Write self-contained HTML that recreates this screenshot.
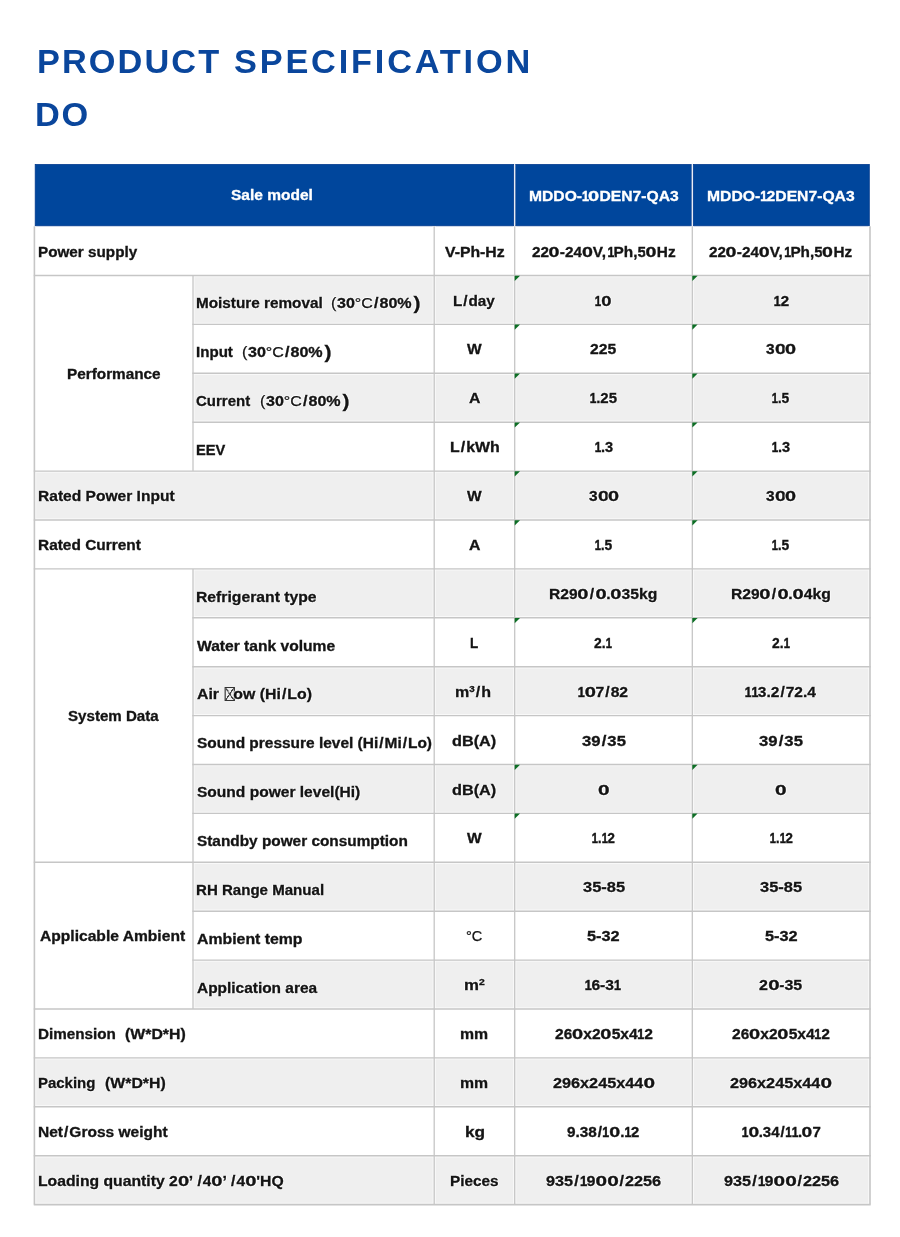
<!DOCTYPE html>
<html><head><meta charset="utf-8"><title>Product Specification DO</title>
<style>
html,body{margin:0;padding:0;background:#fff;}
body{width:900px;height:1237px;position:relative;overflow:hidden;font-family:"Liberation Sans",sans-serif;}
.t{position:absolute;color:#0a469c;font-weight:bold;font-size:33px;line-height:34px;white-space:nowrap;transform-origin:0 50%;}
#pg{position:absolute;left:0;top:0;width:900px;height:1237px;will-change:transform;}
svg{position:absolute;left:0;top:0;}
.x{position:absolute;display:block;color:#141414;font-weight:bold;font-size:13.8px;line-height:20px;height:20px;white-space:nowrap;transform-origin:0 50%;-webkit-text-stroke:0.3px #141414;text-shadow:0.8px 0 0.8px #fff,-0.8px 0 0.8px #fff,0 0.8px 0.8px #fff,0 -0.8px 0.8px #fff;}
.x.h{color:#fff;-webkit-text-stroke-color:#fff;text-shadow:none;}
.x sup{font-size:8.5px;line-height:0;vertical-align:5.5px;}
.nb{font-weight:normal;-webkit-text-stroke:0.25px #141414;}
.op{margin-right:0.5px;}
.x i{font-style:normal;}
.d1{display:inline-block;transform:scaleX(0.8);margin:0 -1.0px;-webkit-text-stroke-width:0.5px;}
.d1.d1b{margin-left:0.2px;}
.sl{margin:0 0.9px;}
.d0{display:inline-block;transform:scaleX(1.28);margin:0 1.0px;}
.fp{font-size:18px;line-height:0;position:relative;top:0.5px;margin-left:1.5px;}
.box{display:inline-block;width:9.6px;height:14px;border:1px solid #333;box-sizing:border-box;vertical-align:-1.9px;margin:0 -1.6px 0 0.6px;background:linear-gradient(to top right,transparent 45%,#444 46%,#444 54%,transparent 55%),linear-gradient(to bottom right,transparent 45%,#444 46%,#444 54%,transparent 55%);}
</style></head><body><div id="pg">
<div class="t" id="t1" style="left:36.7px;top:44.5px;letter-spacing:2.0px;transform:scaleX(1.04)">PRODUCT</div>
<div class="t" id="t1b" style="left:234.2px;top:44.5px;letter-spacing:2.7px;transform:scaleX(1.04)">SPECIFICATION</div>
<div class="t" id="t2" style="left:34.6px;top:97.6px;letter-spacing:1.6px;transform:scaleX(1.04)">DO</div>
<svg width="900" height="1237" viewBox="0 0 900 1237">
<rect x="35.20" y="164.50" width="478.60" height="61.30" fill="#00469c" stroke="#003a8e" stroke-width="0.8"/>
<rect x="515.60" y="164.50" width="175.80" height="61.30" fill="#00469c" stroke="#003a8e" stroke-width="0.8"/>
<rect x="693.20" y="164.50" width="176.10" height="61.30" fill="#00469c" stroke="#003a8e" stroke-width="0.8"/>
<rect x="193.0" y="275.50" width="677.00" height="48.9" fill="#efefef"/>
<rect x="193.0" y="373.30" width="677.00" height="48.9" fill="#efefef"/>
<rect x="34.4" y="471.10" width="835.60" height="48.9" fill="#efefef"/>
<rect x="193.0" y="568.90" width="677.00" height="48.9" fill="#efefef"/>
<rect x="193.0" y="666.70" width="677.00" height="48.9" fill="#efefef"/>
<rect x="193.0" y="764.50" width="677.00" height="48.9" fill="#efefef"/>
<rect x="193.0" y="862.30" width="677.00" height="48.9" fill="#efefef"/>
<rect x="193.0" y="960.10" width="677.00" height="48.9" fill="#efefef"/>
<rect x="34.4" y="1057.90" width="835.60" height="48.9" fill="#efefef"/>
<rect x="34.4" y="1155.70" width="835.60" height="48.9" fill="#efefef"/>
<line x1="514.7" y1="164.0" x2="514.7" y2="226.2" stroke="#eceff5" stroke-width="1.2"/>
<line x1="692.3" y1="164.0" x2="692.3" y2="226.2" stroke="#eceff5" stroke-width="1.2"/>
<line x1="33.75" y1="275.50" x2="870.65" y2="275.50" stroke="#fff" stroke-opacity="0.6" stroke-width="3.4"/>
<line x1="192.35" y1="324.40" x2="870.65" y2="324.40" stroke="#fff" stroke-opacity="0.6" stroke-width="3.4"/>
<line x1="192.35" y1="373.30" x2="870.65" y2="373.30" stroke="#fff" stroke-opacity="0.6" stroke-width="3.4"/>
<line x1="192.35" y1="422.20" x2="870.65" y2="422.20" stroke="#fff" stroke-opacity="0.6" stroke-width="3.4"/>
<line x1="33.75" y1="471.10" x2="870.65" y2="471.10" stroke="#fff" stroke-opacity="0.6" stroke-width="3.4"/>
<line x1="33.75" y1="520.00" x2="870.65" y2="520.00" stroke="#fff" stroke-opacity="0.6" stroke-width="3.4"/>
<line x1="33.75" y1="568.90" x2="870.65" y2="568.90" stroke="#fff" stroke-opacity="0.6" stroke-width="3.4"/>
<line x1="192.35" y1="617.80" x2="870.65" y2="617.80" stroke="#fff" stroke-opacity="0.6" stroke-width="3.4"/>
<line x1="192.35" y1="666.70" x2="870.65" y2="666.70" stroke="#fff" stroke-opacity="0.6" stroke-width="3.4"/>
<line x1="192.35" y1="715.60" x2="870.65" y2="715.60" stroke="#fff" stroke-opacity="0.6" stroke-width="3.4"/>
<line x1="192.35" y1="764.50" x2="870.65" y2="764.50" stroke="#fff" stroke-opacity="0.6" stroke-width="3.4"/>
<line x1="192.35" y1="813.40" x2="870.65" y2="813.40" stroke="#fff" stroke-opacity="0.6" stroke-width="3.4"/>
<line x1="33.75" y1="862.30" x2="870.65" y2="862.30" stroke="#fff" stroke-opacity="0.6" stroke-width="3.4"/>
<line x1="192.35" y1="911.20" x2="870.65" y2="911.20" stroke="#fff" stroke-opacity="0.6" stroke-width="3.4"/>
<line x1="192.35" y1="960.10" x2="870.65" y2="960.10" stroke="#fff" stroke-opacity="0.6" stroke-width="3.4"/>
<line x1="33.75" y1="1009.00" x2="870.65" y2="1009.00" stroke="#fff" stroke-opacity="0.6" stroke-width="3.4"/>
<line x1="33.75" y1="1057.90" x2="870.65" y2="1057.90" stroke="#fff" stroke-opacity="0.6" stroke-width="3.4"/>
<line x1="33.75" y1="1106.80" x2="870.65" y2="1106.80" stroke="#fff" stroke-opacity="0.6" stroke-width="3.4"/>
<line x1="33.75" y1="1155.70" x2="870.65" y2="1155.70" stroke="#fff" stroke-opacity="0.6" stroke-width="3.4"/>
<line x1="33.75" y1="1204.60" x2="870.65" y2="1204.60" stroke="#fff" stroke-opacity="0.6" stroke-width="3.7"/>
<line x1="34.40" y1="226.20" x2="34.40" y2="1204.60" stroke="#fff" stroke-opacity="0.6" stroke-width="3.6"/>
<line x1="434.20" y1="226.20" x2="434.20" y2="1204.60" stroke="#fff" stroke-opacity="0.6" stroke-width="3.3"/>
<line x1="514.70" y1="226.20" x2="514.70" y2="1204.60" stroke="#fff" stroke-opacity="0.6" stroke-width="3.3"/>
<line x1="692.30" y1="226.20" x2="692.30" y2="1204.60" stroke="#fff" stroke-opacity="0.6" stroke-width="3.3"/>
<line x1="870.00" y1="226.20" x2="870.00" y2="1204.60" stroke="#fff" stroke-opacity="0.6" stroke-width="3.6"/>
<line x1="193.00" y1="275.50" x2="193.00" y2="471.10" stroke="#fff" stroke-opacity="0.6" stroke-width="3.3"/>
<line x1="193.00" y1="568.90" x2="193.00" y2="862.30" stroke="#fff" stroke-opacity="0.6" stroke-width="3.3"/>
<line x1="193.00" y1="862.30" x2="193.00" y2="1009.00" stroke="#fff" stroke-opacity="0.6" stroke-width="3.3"/>
<line x1="33.75" y1="275.50" x2="870.65" y2="275.50" stroke="#c6c6c6" stroke-width="1.4"/>
<line x1="192.35" y1="324.40" x2="870.65" y2="324.40" stroke="#c6c6c6" stroke-width="1.4"/>
<line x1="192.35" y1="373.30" x2="870.65" y2="373.30" stroke="#c6c6c6" stroke-width="1.4"/>
<line x1="192.35" y1="422.20" x2="870.65" y2="422.20" stroke="#c6c6c6" stroke-width="1.4"/>
<line x1="33.75" y1="471.10" x2="870.65" y2="471.10" stroke="#c6c6c6" stroke-width="1.4"/>
<line x1="33.75" y1="520.00" x2="870.65" y2="520.00" stroke="#c6c6c6" stroke-width="1.4"/>
<line x1="33.75" y1="568.90" x2="870.65" y2="568.90" stroke="#c6c6c6" stroke-width="1.4"/>
<line x1="192.35" y1="617.80" x2="870.65" y2="617.80" stroke="#c6c6c6" stroke-width="1.4"/>
<line x1="192.35" y1="666.70" x2="870.65" y2="666.70" stroke="#c6c6c6" stroke-width="1.4"/>
<line x1="192.35" y1="715.60" x2="870.65" y2="715.60" stroke="#c6c6c6" stroke-width="1.4"/>
<line x1="192.35" y1="764.50" x2="870.65" y2="764.50" stroke="#c6c6c6" stroke-width="1.4"/>
<line x1="192.35" y1="813.40" x2="870.65" y2="813.40" stroke="#c6c6c6" stroke-width="1.4"/>
<line x1="33.75" y1="862.30" x2="870.65" y2="862.30" stroke="#c6c6c6" stroke-width="1.4"/>
<line x1="192.35" y1="911.20" x2="870.65" y2="911.20" stroke="#c6c6c6" stroke-width="1.4"/>
<line x1="192.35" y1="960.10" x2="870.65" y2="960.10" stroke="#c6c6c6" stroke-width="1.4"/>
<line x1="33.75" y1="1009.00" x2="870.65" y2="1009.00" stroke="#c6c6c6" stroke-width="1.4"/>
<line x1="33.75" y1="1057.90" x2="870.65" y2="1057.90" stroke="#c6c6c6" stroke-width="1.4"/>
<line x1="33.75" y1="1106.80" x2="870.65" y2="1106.80" stroke="#c6c6c6" stroke-width="1.4"/>
<line x1="33.75" y1="1155.70" x2="870.65" y2="1155.70" stroke="#c6c6c6" stroke-width="1.4"/>
<line x1="33.75" y1="1204.60" x2="870.65" y2="1204.60" stroke="#c6c6c6" stroke-width="1.7"/>
<line x1="34.40" y1="226.20" x2="34.40" y2="1204.60" stroke="#c6c6c6" stroke-width="1.6"/>
<line x1="434.20" y1="226.20" x2="434.20" y2="1204.60" stroke="#c6c6c6" stroke-width="1.3"/>
<line x1="514.70" y1="226.20" x2="514.70" y2="1204.60" stroke="#c6c6c6" stroke-width="1.3"/>
<line x1="692.30" y1="226.20" x2="692.30" y2="1204.60" stroke="#c6c6c6" stroke-width="1.3"/>
<line x1="870.00" y1="226.20" x2="870.00" y2="1204.60" stroke="#c6c6c6" stroke-width="1.6"/>
<line x1="193.00" y1="275.50" x2="193.00" y2="471.10" stroke="#c6c6c6" stroke-width="1.3"/>
<line x1="193.00" y1="568.90" x2="193.00" y2="862.30" stroke="#c6c6c6" stroke-width="1.3"/>
<line x1="193.00" y1="862.30" x2="193.00" y2="1009.00" stroke="#c6c6c6" stroke-width="1.3"/>
<path d="M514.70 275.70h5.3L514.70 280.90z" fill="#0d6e25"/>
<path d="M692.30 275.70h5.3L692.30 280.90z" fill="#0d6e25"/>
<path d="M514.70 324.60h5.3L514.70 329.80z" fill="#0d6e25"/>
<path d="M692.30 324.60h5.3L692.30 329.80z" fill="#0d6e25"/>
<path d="M514.70 373.50h5.3L514.70 378.70z" fill="#0d6e25"/>
<path d="M692.30 373.50h5.3L692.30 378.70z" fill="#0d6e25"/>
<path d="M514.70 422.40h5.3L514.70 427.60z" fill="#0d6e25"/>
<path d="M692.30 422.40h5.3L692.30 427.60z" fill="#0d6e25"/>
<path d="M514.70 471.30h5.3L514.70 476.50z" fill="#0d6e25"/>
<path d="M692.30 471.30h5.3L692.30 476.50z" fill="#0d6e25"/>
<path d="M514.70 520.20h5.3L514.70 525.40z" fill="#0d6e25"/>
<path d="M692.30 520.20h5.3L692.30 525.40z" fill="#0d6e25"/>
<path d="M514.70 618.00h5.3L514.70 623.20z" fill="#0d6e25"/>
<path d="M692.30 618.00h5.3L692.30 623.20z" fill="#0d6e25"/>
<path d="M514.70 764.70h5.3L514.70 769.90z" fill="#0d6e25"/>
<path d="M692.30 764.70h5.3L692.30 769.90z" fill="#0d6e25"/>
<path d="M514.70 813.60h5.3L514.70 818.80z" fill="#0d6e25"/>
<path d="M692.30 813.60h5.3L692.30 818.80z" fill="#0d6e25"/>
</svg>
<span class="x h" style="left:230.76px;top:186.10px;transform:scaleX(1.1239)">Sale model</span>
<span class="x h" style="left:528.51px;top:186.90px;transform:scaleX(1.1355)">MDDO-<i class='d1'>1</i><i class='d0'>0</i>DEN7-QA3</span>
<span class="x h" style="left:707.26px;top:186.90px;transform:scaleX(1.1368)">MDDO-<i class='d1'>1</i>2DEN7-QA3</span>
<span class="x " style="left:37.57px;top:242.65px;transform:scaleX(1.1056)">Power supply</span>
<span class="x " style="left:444.95px;top:242.65px;transform:scaleX(1.1440)">V-Ph-Hz</span>
<span class="x " style="left:531.72px;top:242.65px;transform:scaleX(1.1128)">22<i class='d0'>0</i>-24<i class='d0'>0</i>V,<i class='d1 d1b'>1</i>Ph,5<i class='d0'>0</i>Hz</span>
<span class="x " style="left:709.42px;top:242.65px;transform:scaleX(1.1097)">22<i class='d0'>0</i>-24<i class='d0'>0</i>V,<i class='d1 d1b'>1</i>Ph,5<i class='d0'>0</i>Hz</span>
<span class="x " style="left:66.67px;top:364.60px;transform:scaleX(1.1099)">Performance</span>
<span class="x " style="left:195.97px;top:294.25px;transform:scaleX(1.1086)">Moisture removal</span>
<span class="x par" style="left:331.13px;top:294.25px;transform:scaleX(1.1654)"><span class='nb op'>(</span>30<span class='nb'>&deg;C</span><i class='sl'>/</i>80%<span class='fp'>)</span></span>
<span class="x " style="left:453.12px;top:291.55px;transform:scaleX(1.1060)">L<i class='sl'>/</i>day</span>
<span class="x " style="left:595.44px;top:291.55px;transform:scaleX(1.0400)"><i class='d1'>1</i><i class='d0'>0</i></span>
<span class="x " style="left:773.52px;top:291.55px;transform:scaleX(1.1294)"><i class='d1'>1</i>2</span>
<span class="x " style="left:195.98px;top:343.15px;transform:scaleX(1.0939)">Input</span>
<span class="x par" style="left:242.23px;top:343.15px;transform:scaleX(1.1654)"><span class='nb op'>(</span>30<span class='nb'>&deg;C</span><i class='sl'>/</i>80%<span class='fp'>)</span></span>
<span class="x " style="left:467.25px;top:340.45px;transform:scaleX(1.1231)">W</span>
<span class="x " style="left:590.42px;top:340.45px;transform:scaleX(1.1378)">225</span>
<span class="x " style="left:766.12px;top:340.45px;transform:scaleX(1.1231)">3<i class='d0'>0</i><i class='d0'>0</i></span>
<span class="x " style="left:196.26px;top:392.05px;transform:scaleX(1.0863)">Current</span>
<span class="x par" style="left:259.63px;top:392.05px;transform:scaleX(1.1654)"><span class='nb op'>(</span>30<span class='nb'>&deg;C</span><i class='sl'>/</i>80%<span class='fp'>)</span></span>
<span class="x " style="left:468.81px;top:389.35px;transform:scaleX(1.1474)">A</span>
<span class="x " style="left:590.08px;top:389.35px;transform:scaleX(1.0845)"><i class='d1'>1</i>.25</span>
<span class="x " style="left:772.35px;top:389.35px;transform:scaleX(1.0030)"><i class='d1'>1</i>.5</span>
<span class="x " style="left:196.00px;top:440.95px;transform:scaleX(1.0617)">EEV</span>
<span class="x " style="left:449.64px;top:438.25px;transform:scaleX(1.1521)">L<i class='sl'>/</i>kWh</span>
<span class="x " style="left:594.54px;top:438.25px;transform:scaleX(1.0545)"><i class='d1'>1</i>.3</span>
<span class="x " style="left:772.04px;top:438.25px;transform:scaleX(1.0545)"><i class='d1'>1</i>.3</span>
<span class="x " style="left:37.55px;top:487.15px;transform:scaleX(1.1277)">Rated Power Input</span>
<span class="x " style="left:467.25px;top:487.15px;transform:scaleX(1.1231)">W</span>
<span class="x " style="left:588.62px;top:487.15px;transform:scaleX(1.1231)">3<i class='d0'>0</i><i class='d0'>0</i></span>
<span class="x " style="left:766.12px;top:487.15px;transform:scaleX(1.1231)">3<i class='d0'>0</i><i class='d0'>0</i></span>
<span class="x " style="left:37.56px;top:536.05px;transform:scaleX(1.1178)">Rated Current</span>
<span class="x " style="left:468.81px;top:536.05px;transform:scaleX(1.1474)">A</span>
<span class="x " style="left:594.85px;top:536.05px;transform:scaleX(1.0030)"><i class='d1'>1</i>.5</span>
<span class="x " style="left:772.35px;top:536.05px;transform:scaleX(1.0030)"><i class='d1'>1</i>.5</span>
<span class="x " style="left:68.13px;top:706.90px;transform:scaleX(1.0949)">System Data</span>
<span class="x " style="left:195.95px;top:587.65px;transform:scaleX(1.1399)">Refrigerant type</span>
<span class="x " style="left:549.40px;top:584.95px;transform:scaleX(1.1360)">R29<i class='d0'>0</i><i class='sl'>/</i><i class='d0'>0</i>.<i class='d0'>0</i>35kg</span>
<span class="x " style="left:731.20px;top:584.95px;transform:scaleX(1.1384)">R29<i class='d0'>0</i><i class='sl'>/</i><i class='d0'>0</i>.<i class='d0'>0</i>4kg</span>
<span class="x " style="left:196.80px;top:636.55px;transform:scaleX(1.1310)">Water tank volume</span>
<span class="x " style="left:470.17px;top:633.85px;transform:scaleX(0.9733)">L</span>
<span class="x " style="left:594.45px;top:633.85px;transform:scaleX(1.0057)">2.<i class='d1'>1</i></span>
<span class="x " style="left:771.95px;top:633.85px;transform:scaleX(1.0057)">2.<i class='d1'>1</i></span>
<span class="x " style="left:196.51px;top:685.45px;transform:scaleX(1.1496)">Air <span class='box'></span>ow (Hi<i class='sl'>/</i>Lo)</span>
<span class="x " style="left:454.58px;top:682.75px;transform:scaleX(1.1627)">m<sup>3</sup><i class='sl'>/</i>h</span>
<span class="x " style="left:578.47px;top:682.75px;transform:scaleX(1.1379)"><i class='d1'>1</i><i class='d0'>0</i>7<i class='sl'>/</i>82</span>
<span class="x " style="left:745.42px;top:682.75px;transform:scaleX(1.1251)"><i class='d1'>1</i><i class='d1'>1</i>3.2<i class='sl'>/</i>72.4</span>
<span class="x " style="left:196.52px;top:734.35px;transform:scaleX(1.1201)">Sound pressure level (Hi<i class='sl'>/</i>Mi<i class='sl'>/</i>Lo)</span>
<span class="x " style="left:452.46px;top:731.65px;transform:scaleX(1.1781)">dB(A)</span>
<span class="x " style="left:581.60px;top:731.65px;transform:scaleX(1.2084)">39<i class='sl'>/</i>35</span>
<span class="x " style="left:759.10px;top:731.65px;transform:scaleX(1.2084)">39<i class='sl'>/</i>35</span>
<span class="x " style="left:196.52px;top:783.25px;transform:scaleX(1.1271)">Sound power level(Hi)</span>
<span class="x " style="left:452.46px;top:780.55px;transform:scaleX(1.1781)">dB(A)</span>
<span class="x " style="left:597.76px;top:780.55px;transform:scaleX(1.1771)"><i class='d0'>0</i></span>
<span class="x " style="left:775.26px;top:780.55px;transform:scaleX(1.1771)"><i class='d0'>0</i></span>
<span class="x " style="left:196.52px;top:832.15px;transform:scaleX(1.1139)">Standby power consumption</span>
<span class="x " style="left:467.25px;top:829.45px;transform:scaleX(1.1231)">W</span>
<span class="x " style="left:592.15px;top:829.45px;transform:scaleX(0.9978)"><i class='d1'>1</i>.<i class='d1'>1</i>2</span>
<span class="x " style="left:769.65px;top:829.45px;transform:scaleX(0.9978)"><i class='d1'>1</i>.<i class='d1'>1</i>2</span>
<span class="x " style="left:40.32px;top:926.95px;transform:scaleX(1.1313)">Applicable Ambient</span>
<span class="x " style="left:195.98px;top:881.05px;transform:scaleX(1.0920)">RH Range Manual</span>
<span class="x " style="left:582.50px;top:878.35px;transform:scaleX(1.1914)">35-85</span>
<span class="x " style="left:760.00px;top:878.35px;transform:scaleX(1.1914)">35-85</span>
<span class="x " style="left:196.51px;top:929.95px;transform:scaleX(1.1474)">Ambient temp</span>
<span class="x " style="left:466.26px;top:927.25px;transform:scaleX(1.0526)"><span class='nb'>&deg;C</span></span>
<span class="x " style="left:587.25px;top:927.25px;transform:scaleX(1.1815)">5-32</span>
<span class="x " style="left:764.75px;top:927.25px;transform:scaleX(1.1815)">5-32</span>
<span class="x " style="left:196.52px;top:978.85px;transform:scaleX(1.1189)">Application area</span>
<span class="x " style="left:463.89px;top:976.15px;transform:scaleX(1.2188)">m<sup>2</sup></span>
<span class="x " style="left:585.42px;top:976.15px;transform:scaleX(1.1302)"><i class='d1'>1</i>6-3<i class='d1'>1</i></span>
<span class="x " style="left:759.46px;top:976.15px;transform:scaleX(1.1565)">2<i class='d0'>0</i>-35</span>
<span class="x " style="left:37.57px;top:1025.05px;transform:scaleX(1.1043)">Dimension</span>
<span class="x " style="left:125.13px;top:1025.05px;transform:scaleX(1.1478)">(W*D*H)</span>
<span class="x " style="left:460.49px;top:1025.05px;transform:scaleX(1.1478)">mm</span>
<span class="x " style="left:554.72px;top:1025.05px;transform:scaleX(1.1312)">26<i class='d0'>0</i>x2<i class='d0'>0</i>5x4<i class='d1'>1</i>2</span>
<span class="x " style="left:732.22px;top:1025.05px;transform:scaleX(1.1312)">26<i class='d0'>0</i>x2<i class='d0'>0</i>5x4<i class='d1'>1</i>2</span>
<span class="x " style="left:37.59px;top:1073.95px;transform:scaleX(1.0835)">Packing</span>
<span class="x " style="left:104.73px;top:1073.95px;transform:scaleX(1.1478)">(W*D*H)</span>
<span class="x " style="left:460.49px;top:1073.95px;transform:scaleX(1.1478)">mm</span>
<span class="x " style="left:552.61px;top:1073.95px;transform:scaleX(1.1767)">296x245x44<i class='d0'>0</i></span>
<span class="x " style="left:730.11px;top:1073.95px;transform:scaleX(1.1767)">296x245x44<i class='d0'>0</i></span>
<span class="x " style="left:37.56px;top:1122.85px;transform:scaleX(1.1240)">Net<i class='sl'>/</i>Gross weight</span>
<span class="x " style="left:464.56px;top:1122.85px;transform:scaleX(1.2483)">kg</span>
<span class="x " style="left:567.37px;top:1122.85px;transform:scaleX(1.1116)">9.38<i class='sl'>/</i><i class='d1'>1</i><i class='d0'>0</i>.<i class='d1'>1</i>2</span>
<span class="x " style="left:741.68px;top:1122.85px;transform:scaleX(1.0847)"><i class='d1'>1</i><i class='d0'>0</i>.34<i class='sl'>/</i><i class='d1'>1</i><i class='d1'>1</i>.<i class='d0'>0</i>7</span>
<span class="x " style="left:37.55px;top:1171.75px;transform:scaleX(1.1398)">Loading quantity 2<i class='d0'>0</i>’ <i class='sl'>/</i>4<i class='d0'>0</i>’ <i class='sl'>/</i>4<i class='d0'>0</i>'HQ</span>
<span class="x " style="left:450.17px;top:1171.75px;transform:scaleX(1.1082)">Pieces</span>
<span class="x " style="left:546.06px;top:1171.75px;transform:scaleX(1.1784)">935<i class='sl'>/</i><i class='d1'>1</i>9<i class='d0'>0</i><i class='d0'>0</i><i class='sl'>/</i>2256</span>
<span class="x " style="left:723.56px;top:1171.75px;transform:scaleX(1.1784)">935<i class='sl'>/</i><i class='d1'>1</i>9<i class='d0'>0</i><i class='d0'>0</i><i class='sl'>/</i>2256</span>
</div></body></html>
